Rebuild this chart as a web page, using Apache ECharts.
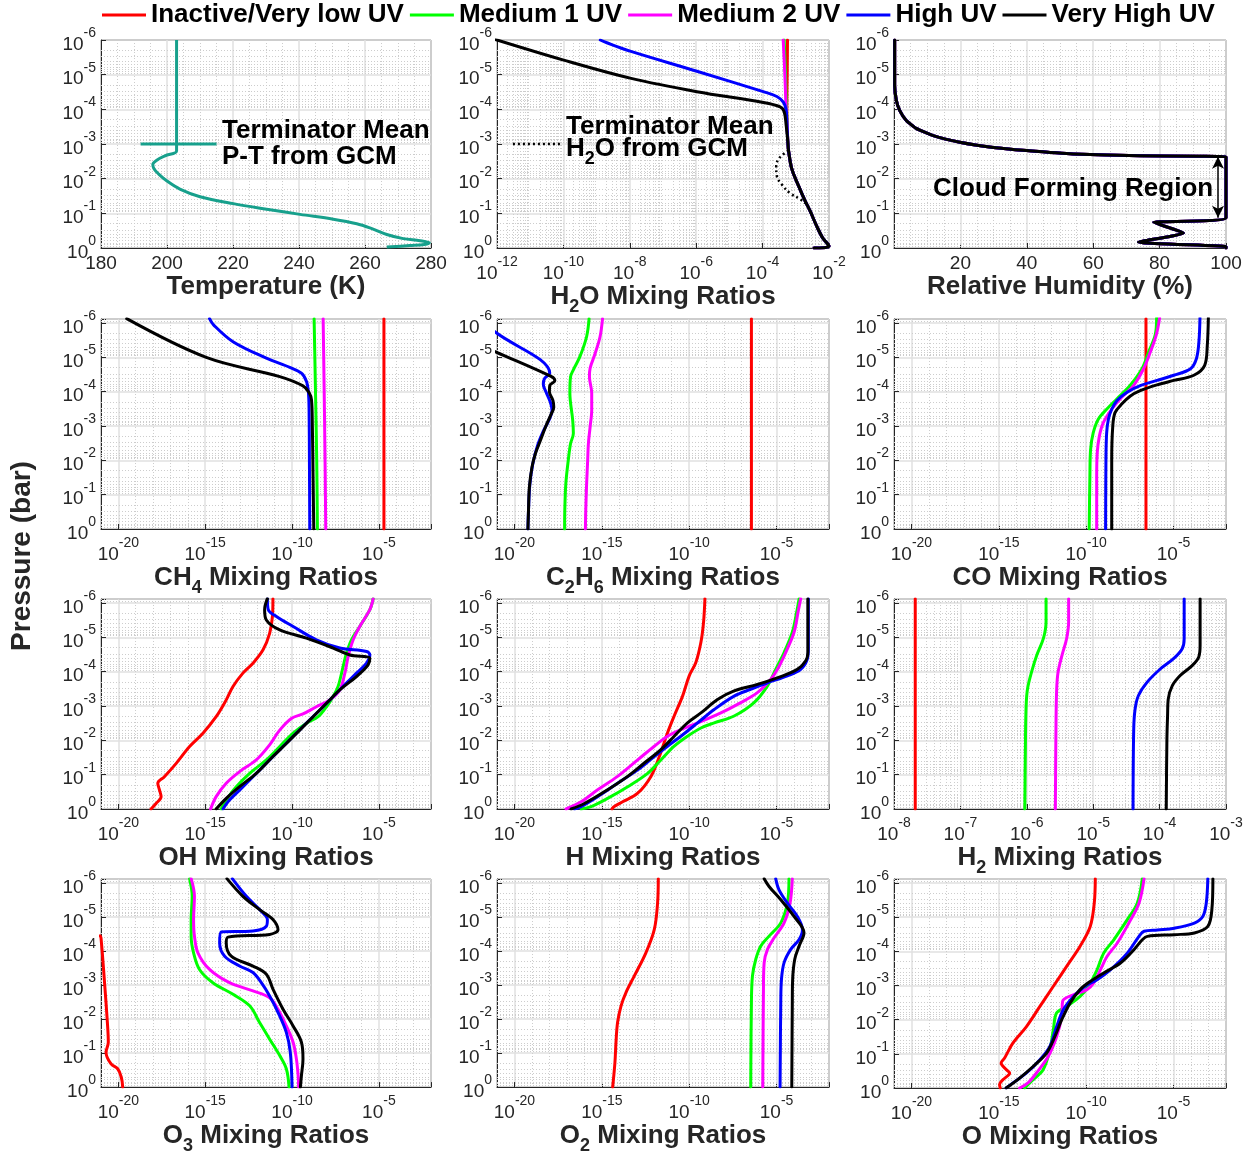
<!DOCTYPE html>
<html><head><meta charset="utf-8">
<script src="https://cdn.jsdelivr.net/npm/echarts@6/dist/echarts.min.js"></script>
<style>html,body{margin:0;padding:0;background:#fff}#c{width:1253px;height:1156px}</style>
</head><body><div id="c"></div>
<script>
// ---------------- DATA ----------------
// Log panels: each point is [log10(mixing ratio), log10(pressure / bar)]
// Linear panels: [temperature K or RH %, log10(pressure / bar)]
const SCENARIOS = ['Inactive/Very low UV', 'Medium 1 UV', 'Medium 2 UV', 'High UV', 'Very High UV'];

const PT_GCM = [[202.9,-6],[202.9,-3.2],[202.9,-2.8],[199.4,-2.66],[197.0,-2.54],[195.7,-2.41],[196.1,-2.28],[197.4,-2.14],[199.9,-1.94],[203.9,-1.70],[210.0,-1.48],[220.1,-1.28],[230.2,-1.12],[240.3,-0.97],[250.4,-0.83],[257.5,-0.70],[261.5,-0.58],[266.6,-0.39],[271.6,-0.27],[276.7,-0.21],[279.5,-0.15],[278.0,-0.10],[273.6,-0.07],[266.6,-0.03]];
const PT_KEY = [[192,-3],[215,-3]];

const H2O_LOW = [[-3.24,-3.06],[-3.22,-2.82],[-3.12,-2.28],[-2.92,-1.80],[-2.72,-1.36],[-2.57,-1.07],[-2.37,-0.63],[-2.19,-0.29],[-2.05,-0.13],[-2.0,-0.05],[-2.15,-0.01],[-2.45,0]];
const H2O_RED = [[-3.25,-6],[-3.26,-5],[-3.27,-4],[-3.26,-3.5]].concat(H2O_LOW);
const H2O_GREEN = [[-3.35,-6],[-3.31,-5],[-3.28,-4],[-3.26,-3.5]].concat(H2O_LOW);
const H2O_MAGENTA = [[-3.38,-6],[-3.33,-5],[-3.29,-4],[-3.26,-3.5]].concat(H2O_LOW);
const H2O_BLUE = [[-8.89,-6],[-8.69,-5.92],[-7.99,-5.68],[-5.98,-5.10],[-3.98,-4.51],[-3.57,-4.37],[-3.37,-4.20],[-3.29,-3.98],[-3.27,-3.64]].concat(H2O_LOW);
const H2O_BLACK = [[-12.1,-6.03],[-9.99,-5.42],[-7.99,-4.90],[-5.98,-4.51],[-3.98,-4.20],[-3.47,-4.07],[-3.35,-3.93],[-3.29,-3.54]].concat(H2O_LOW);
const H2O_GCM = [[-3.22,-2.82],[-3.49,-2.6],[-3.59,-2.36],[-3.57,-2.07],[-3.42,-1.83],[-3.17,-1.58],[-2.87,-1.41],[-2.72,-1.29]];
const H2O_KEY = [[-11.52,-3],[-10.04,-3]];

const RH_PROFILE = [[0.2,-6],[0.2,-5.2],[0.2,-4.69],[0.7,-4.26],[1.7,-3.97],[3.7,-3.68],[6.7,-3.45],[11.8,-3.24],[19.8,-3.05],[29.9,-2.90],[39.9,-2.81],[54.0,-2.71],[74.1,-2.66],[100,-2.63],[100,-0.87],[78.2,-0.74],[87.2,-0.43],[73.6,-0.17],[100,-0.04],[100,0]];
const RH_CLOUD_ARROW = [[97.6,-2.63],[97.6,-0.87]];

const CH4_RED = [[-4.71,-6.13],[-4.71,0]];
const CH4_GREEN = [[-8.73,-6.13],[-8.65,-4],[-8.58,-2],[-8.54,0]];
const CH4_MAGENTA = [[-8.21,-6.13],[-8.15,-4],[-8.10,-2],[-8.06,0]];
const CH4_BLUE = [[-14.75,-6.13],[-14.52,-5.95],[-13.40,-5.46],[-11.48,-4.98],[-10.13,-4.71],[-9.46,-4.54],[-9.17,-4.30],[-9.06,-4.00],[-9.02,-3.47],[-9.0,-2.01],[-8.98,0]];
const CH4_BLACK = [[-19.52,-6.13],[-14.94,-5.0],[-10.71,-4.44],[-9.37,-4.17],[-9.02,-3.98],[-8.88,-3.76],[-8.83,-2.98],[-8.79,-1.52],[-8.75,0]];

const C2H6_RED = [[-6.44,-6.13],[-6.44,0]];
const C2H6_GREEN = [[-15.73,-6.13],[-15.87,-5.61],[-16.25,-5.03],[-16.63,-4.64],[-16.79,-4.44],[-16.83,-3.96],[-16.67,-3.18],[-16.63,-2.79],[-16.79,-2.49],[-16.92,-2.01],[-17.06,-1.33],[-17.12,-0.55],[-17.13,0]];
const C2H6_MAGENTA = [[-14.96,-6.13],[-15.10,-5.61],[-15.38,-5.12],[-15.67,-4.69],[-15.71,-4.44],[-15.58,-3.96],[-15.58,-3.47],[-15.67,-2.98],[-15.77,-2.49],[-15.81,-2.01],[-15.87,-1.33],[-15.92,-0.55],[-15.94,0]];
const C2H6_BLUE = [[-21.5,-5.89],[-21.02,-5.71],[-17.98,-4.54],[-18.27,-4.39],[-18.35,-4.22],[-18.2,-4.0],[-17.95,-3.7],[-17.85,-3.45],[-18.0,-3.2],[-18.35,-2.85],[-18.7,-2.4],[-18.95,-1.9],[-19.12,-1.3],[-19.2,-0.5],[-19.23,0]];
const C2H6_BLACK = [[-21.5,-5.26],[-21.02,-5.15],[-17.88,-4.44],[-17.69,-4.32],[-17.98,-4.18],[-18.0,-4.0],[-17.8,-3.75],[-17.75,-3.55],[-17.9,-3.35],[-18.2,-3.0],[-18.5,-2.6],[-18.8,-2.2],[-19.0,-1.8],[-19.15,-1.2],[-19.2,-0.5],[-19.23,0]];

const CO_RED = [[-6.58,-6.13],[-6.58,0]];
const CO_GREEN = [[-5.97,-6.15],[-6.05,-5.66],[-6.43,-5.16],[-6.81,-4.67],[-7.49,-4.18],[-8.25,-3.79],[-8.83,-3.49],[-9.31,-3.20],[-9.60,-2.80],[-9.75,-2.31],[-9.79,-1.53],[-9.83,0]];
const CO_MAGENTA = [[-5.80,-6.15],[-5.99,-5.66],[-6.33,-5.16],[-6.72,-4.67],[-7.29,-4.18],[-7.97,-3.84],[-8.54,-3.49],[-9.02,-3.10],[-9.25,-2.70],[-9.37,-2.21],[-9.40,-1.53],[-9.40,0]];
const CO_BLUE = [[-3.49,-6.15],[-3.55,-5.46],[-3.69,-4.97],[-4.03,-4.67],[-4.99,-4.48],[-5.95,-4.33],[-6.91,-4.18],[-7.68,-3.98],[-8.25,-3.74],[-8.54,-3.49],[-8.73,-3.20],[-8.83,-2.80],[-8.87,-2.02],[-8.89,0]];
const CO_BLACK = [[-3.01,-6.15],[-3.07,-5.36],[-3.22,-4.77],[-3.84,-4.48],[-4.99,-4.33],[-5.95,-4.20],[-6.91,-4.03],[-7.49,-3.87],[-7.97,-3.64],[-8.35,-3.39],[-8.48,-3.00],[-8.54,-2.02],[-8.54,0]];

const OH_RED = [[-11.10,-6.13],[-11.13,-5.61],[-11.29,-5.12],[-11.67,-4.64],[-12.25,-4.25],[-12.83,-3.96],[-13.40,-3.57],[-13.79,-3.18],[-14.37,-2.69],[-15.13,-2.21],[-15.90,-1.82],[-16.67,-1.33],[-17.35,-0.94],[-17.73,-0.75],[-17.63,-0.55],[-17.54,-0.36],[-17.83,-0.16],[-18.12,0]];
const OH_GREEN = [[-5.33,-6.13],[-5.52,-5.81],[-6.10,-5.32],[-6.58,-4.93],[-6.87,-4.54],[-7.06,-4.15],[-7.35,-3.57],[-7.63,-3.28],[-8.02,-2.98],[-8.50,-2.69],[-9.17,-2.50],[-9.94,-2.21],[-10.71,-1.82],[-11.48,-1.43],[-12.44,-1.04],[-13.21,-0.65],[-13.79,-0.26],[-14.08,0]];
const OH_MAGENTA = [[-5.33,-6.13],[-5.52,-5.81],[-6.10,-5.32],[-6.48,-4.93],[-6.77,-4.44],[-6.96,-3.96],[-7.25,-3.47],[-7.83,-3.18],[-8.60,-2.98],[-9.37,-2.77],[-10.04,-2.64],[-10.71,-2.30],[-11.29,-1.87],[-12.06,-1.43],[-13.02,-1.09],[-13.79,-0.75],[-14.37,-0.36],[-14.69,0]];
const OH_BLUE = [[-11.42,-6.13],[-11.37,-5.81],[-10.90,-5.61],[-9.94,-5.32],[-8.60,-4.93],[-7.25,-4.69],[-5.71,-4.59],[-5.52,-4.49],[-5.71,-4.25],[-6.29,-3.96],[-6.87,-3.67],[-7.63,-3.28],[-8.21,-2.98],[-8.98,-2.60],[-9.75,-2.21],[-10.52,-1.82],[-11.29,-1.43],[-12.25,-0.94],[-13.02,-0.55],[-13.60,-0.26],[-13.98,0]];
const OH_BLACK = [[-11.42,-6.13],[-11.58,-5.81],[-11.48,-5.51],[-10.71,-5.22],[-9.17,-4.98],[-7.63,-4.69],[-6.67,-4.49],[-5.52,-4.39],[-5.62,-4.20],[-6.29,-3.86],[-7.25,-3.47],[-8.02,-3.08],[-8.79,-2.69],[-9.56,-2.30],[-10.33,-1.91],[-11.10,-1.53],[-12.06,-1.04],[-13.02,-0.65],[-13.79,-0.31],[-14.37,0]];

const H_RED = [[-9.10,-6.13],[-9.18,-5.44],[-9.33,-4.86],[-9.62,-4.27],[-10.0,-3.88],[-10.38,-3.29],[-10.86,-2.71],[-11.24,-2.22],[-11.71,-1.53],[-12.19,-0.95],[-12.95,-0.46],[-13.81,-0.21],[-14.29,-0.07],[-14.42,0]];
const H_GREEN = [[-3.71,-6.13],[-3.85,-5.74],[-4.10,-5.15],[-4.57,-4.56],[-5.05,-4.07],[-5.52,-3.59],[-6.29,-3.10],[-7.43,-2.71],[-8.57,-2.51],[-9.33,-2.36],[-10.10,-2.12],[-10.86,-1.83],[-11.62,-1.43],[-12.38,-1.04],[-13.52,-0.65],[-14.67,-0.31],[-15.62,-0.07],[-16.19,0]];
const H_MAGENTA = [[-3.62,-6.13],[-3.77,-5.74],[-4.0,-5.15],[-4.48,-4.56],[-4.95,-4.07],[-5.33,-3.78],[-6.10,-3.39],[-7.05,-3.10],[-8.19,-2.80],[-9.52,-2.51],[-10.48,-2.31],[-11.24,-2.12],[-12.0,-1.83],[-12.95,-1.43],[-14.10,-0.95],[-15.24,-0.56],[-16.19,-0.21],[-17.05,0]];
const H_BLUE = [[-3.18,-6.13],[-3.18,-4.66],[-3.24,-4.37],[-3.62,-4.07],[-4.38,-3.88],[-5.52,-3.68],[-6.48,-3.49],[-7.43,-3.29],[-8.57,-2.90],[-9.52,-2.51],[-10.48,-2.12],[-11.24,-1.83],[-12.0,-1.53],[-12.95,-1.14],[-14.10,-0.75],[-15.24,-0.36],[-16.19,-0.07],[-16.57,0]];
const H_BLACK = [[-3.21,-6.13],[-3.21,-4.56],[-3.33,-4.32],[-3.81,-4.07],[-4.76,-3.86],[-6.10,-3.63],[-7.43,-3.44],[-8.38,-3.19],[-9.33,-2.80],[-10.10,-2.51],[-10.86,-2.12],[-11.62,-1.73],[-12.57,-1.34],[-13.52,-0.95],[-14.67,-0.56],[-16.0,-0.16],[-16.76,0]];

const H2_RED = [[-7.68,-6.13],[-7.68,0]];
const H2_GREEN = [[-5.71,-6.13],[-5.71,-5.46],[-5.75,-4.97],[-5.85,-4.48],[-5.93,-3.98],[-5.99,-3.49],[-6.01,-3.0],[-6.02,-2.02],[-6.03,0]];
const H2_MAGENTA = [[-5.37,-6.13],[-5.37,-5.46],[-5.40,-4.97],[-5.47,-4.48],[-5.53,-3.98],[-5.55,-3.49],[-5.56,-2.51],[-5.57,0]];
const H2_BLUE = [[-3.63,-6.13],[-3.63,-4.97],[-3.66,-4.67],[-3.79,-4.38],[-3.99,-4.08],[-4.19,-3.69],[-4.32,-3.30],[-4.37,-2.90],[-4.39,-2.31],[-4.40,0]];
const H2_BLACK = [[-3.39,-6.13],[-3.39,-4.77],[-3.41,-4.43],[-3.51,-4.18],[-3.69,-3.89],[-3.81,-3.59],[-3.87,-3.20],[-3.88,-2.71],[-3.89,-2.02],[-3.90,0]];

const O3_RED = [[-21.05,-4.45],[-21.0,-4.39],[-20.81,-3.17],[-20.62,-1.80],[-20.58,-1.32],[-20.71,-1.02],[-20.42,-0.68],[-20.04,-0.54],[-19.83,-0.29],[-19.75,0]];
const O3_GREEN = [[-15.90,-6.13],[-15.75,-5.61],[-15.81,-4.93],[-15.81,-4.44],[-15.67,-3.95],[-15.33,-3.46],[-14.56,-3.07],[-13.40,-2.73],[-12.44,-2.39],[-11.87,-1.90],[-11.29,-1.41],[-10.71,-0.93],[-10.33,-0.54],[-10.17,0]];
const O3_MAGENTA = [[-15.81,-6.13],[-15.62,-5.61],[-15.67,-4.93],[-15.62,-4.44],[-15.42,-3.95],[-14.75,-3.46],[-13.60,-3.07],[-12.25,-2.83],[-11.29,-2.63],[-10.81,-2.29],[-10.33,-1.80],[-9.94,-1.32],[-9.75,-0.83],[-9.65,-0.34],[-9.62,0]];
const O3_BLUE = [[-13.44,-6.13],[-12.63,-5.61],[-11.87,-5.22],[-11.42,-4.93],[-11.48,-4.73],[-12.25,-4.59],[-14.08,-4.56],[-14.17,-4.24],[-13.88,-3.85],[-13.02,-3.56],[-12.25,-3.37],[-11.77,-3.07],[-11.29,-2.68],[-10.81,-2.20],[-10.33,-1.61],[-10.10,-1.02],[-10.0,0]];
const O3_BLACK = [[-13.75,-6.13],[-12.83,-5.61],[-11.87,-5.22],[-11.10,-4.93],[-10.81,-4.63],[-11.29,-4.49],[-13.69,-4.41],[-13.79,-4.24],[-13.50,-3.85],[-12.25,-3.56],[-11.48,-3.32],[-11.10,-2.88],[-10.52,-2.29],[-9.94,-1.80],[-9.46,-1.32],[-9.37,-0.83],[-9.46,-0.34],[-9.52,0]];

const O2_RED = [[-11.77,-6.13],[-11.81,-5.41],[-12.0,-4.63],[-12.48,-3.95],[-13.14,-3.27],[-13.62,-2.78],[-13.90,-2.39],[-14.10,-1.90],[-14.19,-1.32],[-14.25,-0.73],[-14.38,0]];
const O2_GREEN = [[-4.29,-6.13],[-4.38,-5.41],[-4.76,-4.83],[-5.43,-4.44],[-5.90,-4.15],[-6.19,-3.76],[-6.38,-3.27],[-6.44,-2.49],[-6.48,0]];
const O2_MAGENTA = [[-4.10,-6.13],[-4.23,-5.41],[-4.57,-4.83],[-5.14,-4.39],[-5.52,-4.05],[-5.71,-3.66],[-5.75,-2.98],[-5.79,0]];
const O2_BLUE = [[-5.05,-6.13],[-4.86,-5.8],[-4.38,-5.41],[-3.81,-5.02],[-3.52,-4.63],[-3.71,-4.34],[-4.19,-4.05],[-4.57,-3.66],[-4.72,-3.17],[-4.76,-2.49],[-4.80,0]];
const O2_BLACK = [[-5.71,-6.13],[-5.43,-5.9],[-4.76,-5.51],[-4.0,-5.02],[-3.43,-4.54],[-3.71,-4.15],[-3.96,-3.76],[-4.08,-3.17],[-4.10,-2.49],[-4.13,0]];

const O_RED = [[-9.48,-6.13],[-9.54,-5.41],[-9.77,-4.73],[-10.35,-4.15],[-11.12,-3.56],[-11.88,-2.98],[-12.65,-2.39],[-13.42,-1.80],[-14.19,-1.32],[-14.67,-0.88],[-14.87,-0.73],[-14.58,-0.54],[-14.38,-0.44],[-14.77,-0.24],[-14.96,-0.10],[-14.92,0]];
const O_GREEN = [[-6.79,-6.13],[-7.08,-5.41],[-7.65,-4.93],[-8.42,-4.34],[-9.0,-3.95],[-9.38,-3.46],[-9.87,-2.98],[-10.35,-2.68],[-11.12,-2.39],[-11.69,-2.20],[-11.88,-1.71],[-12.08,-1.12],[-12.46,-0.54],[-13.04,-0.24],[-13.52,0]];
const O_MAGENTA = [[-6.69,-6.13],[-6.98,-5.41],[-7.56,-4.83],[-8.23,-4.24],[-8.81,-3.85],[-9.19,-3.46],[-9.58,-3.07],[-9.96,-2.88],[-10.73,-2.73],[-11.35,-2.54],[-11.40,-2.10],[-11.69,-1.51],[-12.17,-0.93],[-12.85,-0.44],[-13.33,-0.15],[-13.81,0]];
const O_BLUE = [[-3.04,-6.13],[-3.13,-5.41],[-3.33,-5.02],[-3.81,-4.83],[-4.96,-4.68],[-5.92,-4.63],[-6.69,-4.59],[-6.98,-4.44],[-7.65,-3.95],[-8.62,-3.46],[-9.38,-3.17],[-10.06,-2.98],[-10.73,-2.68],[-11.31,-2.29],[-11.69,-1.80],[-12.08,-1.22],[-12.65,-0.83],[-13.42,-0.44],[-14.19,-0.15],[-14.58,0]];
const O_BLACK = [[-2.75,-6.13],[-2.81,-5.22],[-3.04,-4.73],[-3.81,-4.54],[-4.96,-4.49],[-6.50,-4.44],[-6.79,-4.34],[-7.27,-4.05],[-8.04,-3.66],[-9.0,-3.37],[-9.77,-3.12],[-10.35,-2.88],[-10.92,-2.49],[-11.40,-2.0],[-11.79,-1.51],[-12.27,-1.02],[-13.04,-0.63],[-13.81,-0.29],[-14.58,0]];

// ---------------- LAYOUT / STYLE ----------------
const FONT = '"Liberation Sans", Arial, Helvetica, sans-serif';
const COLORS = ['#ff0000', '#00ff00', '#ff00ff', '#0000ff', '#000000'];
const TEAL = '#17a08c';
const AXC = '#262626';
const COLS = [{left: 101, width: 330}, {left: 497, width: 332}, {left: 894, width: 332}];
const ROWS = [{top: 40, height: 208}, {top: 319, height: 210}, {top: 599, height: 210}, {top: 879, height: 209}];
const LOG19 = {kind: 'log', min: -21, max: -2, step: 5, logMinor: false};

const PANELS = [
  {row: 0, col: 0, x: {kind: 'lin', min: 180, max: 280, interval: 20, minor: 4}, yMin: -6, name: '{n|Temperature (K)}', gap: 23, curves: null},
  {row: 0, col: 1, x: {kind: 'log', min: -12, max: -2, step: 2, logMinor: true}, yMin: -6, name: '{n|H}{sub|2}{n|O Mixing Ratios}', gap: 28, curves: [H2O_RED, H2O_GREEN, H2O_MAGENTA, H2O_BLUE, H2O_BLACK]},
  {row: 0, col: 2, x: {kind: 'lin', min: 0, max: 100, interval: 20, minor: 4, hideMin: true}, yMin: -6, name: '{n|Relative Humidity (%)}', gap: 23, curves: [RH_PROFILE, RH_PROFILE, RH_PROFILE, RH_PROFILE, RH_PROFILE], smooth: 0.15},
  {row: 1, col: 0, x: LOG19, yMin: -6.12, name: '{n|CH}{sub|4}{n| Mixing Ratios}', gap: 28, curves: [CH4_RED, CH4_GREEN, CH4_MAGENTA, CH4_BLUE, CH4_BLACK]},
  {row: 1, col: 1, x: LOG19, yMin: -6.12, name: '{n|C}{sub|2}{n|H}{sub|6}{n| Mixing Ratios}', gap: 28, curves: [C2H6_RED, C2H6_GREEN, C2H6_MAGENTA, C2H6_BLUE, C2H6_BLACK]},
  {row: 1, col: 2, x: LOG19, yMin: -6.12, name: '{n|CO Mixing Ratios}', gap: 30, curves: [CO_RED, CO_GREEN, CO_MAGENTA, CO_BLUE, CO_BLACK]},
  {row: 2, col: 0, x: LOG19, yMin: -6.12, name: '{n|OH Mixing Ratios}', gap: 30, curves: [OH_RED, OH_GREEN, OH_MAGENTA, OH_BLUE, OH_BLACK]},
  {row: 2, col: 1, x: LOG19, yMin: -6.12, name: '{n|H Mixing Ratios}', gap: 30, curves: [H_RED, H_GREEN, H_MAGENTA, H_BLUE, H_BLACK]},
  {row: 2, col: 2, x: {kind: 'log', min: -8, max: -3, step: 1, logMinor: true}, yMin: -6.12, name: '{n|H}{sub|2}{n| Mixing Ratios}', gap: 27, curves: [H2_RED, H2_GREEN, H2_MAGENTA, H2_BLUE, H2_BLACK]},
  {row: 3, col: 0, x: LOG19, yMin: -6.12, name: '{n|O}{sub|3}{n| Mixing Ratios}', gap: 28, curves: [O3_RED, O3_GREEN, O3_MAGENTA, O3_BLUE, O3_BLACK]},
  {row: 3, col: 1, x: LOG19, yMin: -6.12, name: '{n|O}{sub|2}{n| Mixing Ratios}', gap: 28, curves: [O2_RED, O2_GREEN, O2_MAGENTA, O2_BLUE, O2_BLACK]},
  {row: 3, col: 2, x: LOG19, yMin: -6.12, name: '{n|O Mixing Ratios}', gap: 30, curves: [O_RED, O_GREEN, O_MAGENTA, O_BLUE, O_BLACK]}
];

const TICK_RICH = {
  b: {fontSize: 19, lineHeight: 28, verticalAlign: 'bottom', fontFamily: FONT, color: AXC},
  s: {fontSize: 14, lineHeight: 14, verticalAlign: 'top', fontFamily: FONT, color: AXC}
};
const NAME_RICH = {
  n: {fontSize: 26, fontWeight: 'bold', lineHeight: 32, verticalAlign: 'top', fontFamily: FONT, color: AXC},
  sub: {fontSize: 18, fontWeight: 'bold', lineHeight: 14, verticalAlign: 'bottom', fontFamily: FONT, color: AXC}
};
const MAJOR_LS = {color: '#e0e0e0', width: 1.5};
const MINOR_LS = {color: '#cdcdcd', width: 1, type: [1, 2]};

function powLabel(step) {
  return function (v) {
    const r = Math.round(v);
    if (Math.abs(v - r) > 1e-6 || r % step !== 0) return '';
    return '{b|10}{s|' + r + '}';
  };
}
function logMinorVals(a, b) {
  const out = [];
  for (let n = Math.floor(a); n < b; n++) {
    for (let k = 2; k <= 9; k++) {
      const v = n + Math.log10(k);
      if (v > a + 1e-6 && v < b - 1e-6) out.push(v);
    }
  }
  return out;
}

const grids = [], xAxes = [], yAxes = [], series = [];
PANELS.forEach(function (p, i) {
  grids.push({left: COLS[p.col].left, width: COLS[p.col].width, top: ROWS[p.row].top, height: ROWS[p.row].height,
    show: true, borderColor: AXC, borderWidth: 1, backgroundColor: '#fff'});
  const x = p.x;
  const xa = {
    type: 'value', gridIndex: i, min: x.min, max: x.max, position: 'bottom',
    name: p.name, nameLocation: 'middle', nameGap: p.gap, nameTextStyle: {rich: NAME_RICH},
    axisLine: {show: true, onZero: false, lineStyle: {color: AXC, width: 1}},
    axisTick: {show: true, inside: true, length: 5, lineStyle: {color: AXC}},
    splitLine: {show: true, lineStyle: MAJOR_LS}
  };
  if (x.kind === 'lin') {
    xa.interval = x.interval;
    xa.axisLabel = {fontSize: 19, color: AXC, fontFamily: FONT, margin: 6, showMinLabel: !x.hideMin};
    xa.minorTick = {show: false, splitNumber: x.minor};
    xa.minorSplitLine = {show: true, lineStyle: MINOR_LS};
  } else {
    xa.minInterval = x.step; xa.maxInterval = x.step;
    xa.axisLabel = {formatter: powLabel(x.step), rich: TICK_RICH, margin: 7, showMinLabel: true, showMaxLabel: true};
    if (!x.logMinor) {
      xa.minorTick = {show: false, splitNumber: x.step};
      xa.minorSplitLine = {show: true, lineStyle: MINOR_LS};
    }
  }
  xAxes.push(xa);
  yAxes.push({
    type: 'value', gridIndex: i, inverse: true, min: p.yMin, max: 0, minInterval: 1, maxInterval: 1,
    axisLine: {show: true, onZero: false, lineStyle: {color: AXC, width: 1}},
    axisTick: {show: true, inside: true, length: 5, lineStyle: {color: AXC}},
    splitLine: {show: true, lineStyle: MAJOR_LS},
    axisLabel: {formatter: powLabel(1), rich: TICK_RICH, margin: 5, showMinLabel: true, showMaxLabel: true}
  });
  // log-spaced minor grid (2..9 x 10^n), positioned by the axes; kept beneath the curves
  const ml = logMinorVals(p.yMin, 0).map(function (v) { return {yAxis: v}; });
  if (x.kind === 'log' && x.logMinor) logMinorVals(x.min, x.max).forEach(function (v) { ml.push({xAxis: v}); });
  series.push({type: 'line', xAxisIndex: i, yAxisIndex: i, data: [], silent: true, z: 1, zlevel: 0, symbol: 'none',
    markLine: {z: 1, silent: true, symbol: ['none', 'none'], label: {show: false}, lineStyle: MINOR_LS, animation: false, data: ml}});
  if (p.curves) {
    p.curves.forEach(function (d, k) {
      series.push({type: 'line', name: SCENARIOS[k], xAxisIndex: i, yAxisIndex: i, data: d,
        symbol: 'none', showSymbol: false, smooth: p.smooth != null ? p.smooth : 0.35,
        lineStyle: {color: COLORS[k], width: 3, cap: 'round', join: 'round'}, itemStyle: {color: COLORS[k]}, z: 3 + k});
    });
  }
});

// Panel 1: GCM P-T profile + its key line
series.push({type: 'line', name: 'GCM P-T', xAxisIndex: 0, yAxisIndex: 0, data: PT_GCM, symbol: 'none', smooth: 0.35,
  lineStyle: {color: TEAL, width: 3, join: 'round'}, z: 5});
series.push({type: 'line', name: 'GCM P-T key', xAxisIndex: 0, yAxisIndex: 0, data: PT_KEY, symbol: 'none', lineStyle: {color: TEAL, width: 3}, z: 5});
// Panel 2: GCM H2O (dotted) + key line
series.push({type: 'line', name: 'GCM H2O', xAxisIndex: 1, yAxisIndex: 1, data: H2O_GCM, symbol: 'none', smooth: 0.4,
  lineStyle: {color: '#000', width: 2.5, type: [2, 3]}, z: 9});
series.push({type: 'line', name: 'GCM H2O key', xAxisIndex: 1, yAxisIndex: 1, data: H2O_KEY, symbol: 'none',
  lineStyle: {color: '#000', width: 2.5, type: [2, 3]}, z: 9});
// Panel 3: cloud forming region arrow
series.push({type: 'line', xAxisIndex: 2, yAxisIndex: 2, data: [], symbol: 'none', z: 10,
  markLine: {z: 10, silent: true, symbol: ['arrow', 'arrow'], symbolSize: [9, 12], label: {show: false},
    lineStyle: {color: '#000', width: 1.5, type: 'solid'}, animation: false,
    data: [[{coord: RH_CLOUD_ARROW[0]}, {coord: RH_CLOUD_ARROW[1]}]]}});

const BOLD = 'bold 26px ' + FONT;
const option = {
  animation: false,
  backgroundColor: '#fff',
  legend: {
    data: SCENARIOS, left: 102, top: 0, padding: 0, itemWidth: 44, itemHeight: 3, itemGap: 6, icon: 'rect', selectedMode: false,
    textStyle: {fontSize: 26, fontWeight: 'bold', color: '#000', fontFamily: FONT, lineHeight: 30}
  },
  grid: grids, xAxis: xAxes, yAxis: yAxes, series: series,
  graphic: [
    {type: 'text', x: 22, y: 556, rotation: Math.PI / 2, z: 100,
      style: {text: 'Pressure (bar)', font: 'bold 28px ' + FONT, fill: AXC, align: 'center', verticalAlign: 'middle'}},
    {type: 'text', x: 222, y: 131, z: 100, style: {text: 'Terminator Mean', font: BOLD, fill: '#000', verticalAlign: 'middle'}},
    {type: 'text', x: 222, y: 157, z: 100, style: {text: 'P-T from GCM', font: BOLD, fill: '#000', verticalAlign: 'middle'}},
    {type: 'text', x: 566, y: 127, z: 100, style: {text: 'Terminator Mean', font: BOLD, fill: '#000', verticalAlign: 'middle'}},
    {type: 'text', x: 566, y: 152, z: 100, style: {text: '{n|H}{sub|2}{n|O from GCM}', verticalAlign: 'middle',
      rich: {n: {fontSize: 26, fontWeight: 'bold', lineHeight: 32, verticalAlign: 'top', fontFamily: FONT, fill: '#000'},
             sub: {fontSize: 18, fontWeight: 'bold', lineHeight: 14, verticalAlign: 'bottom', fontFamily: FONT, fill: '#000'}}}},
    {type: 'text', x: 933, y: 189, z: 100, style: {text: 'Cloud Forming Region', font: BOLD, fill: '#000', verticalAlign: 'middle'}}
  ]
};
const chart = echarts.init(document.getElementById('c'), null, {renderer: 'canvas'});
chart.setOption(option);
</script></body></html>
